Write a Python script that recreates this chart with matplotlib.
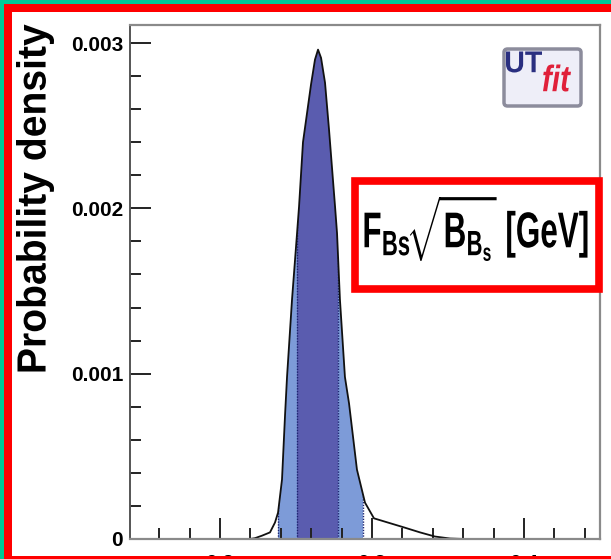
import numpy as np
import matplotlib
matplotlib.use('Agg')
import matplotlib.pyplot as plt
from matplotlib.patches import Rectangle, Polygon, FancyBboxPatch, PathPatch
from matplotlib.textpath import TextPath
from matplotlib.font_manager import FontProperties
from matplotlib.transforms import Affine2D
from matplotlib.ticker import MultipleLocator

plt.rcParams['font.family'] = ['Liberation Sans', 'DejaVu Sans']
plt.rcParams['mathtext.fontset'] = 'custom'
plt.rcParams['mathtext.rm'] = 'Liberation Sans:bold'
plt.rcParams['mathtext.it'] = 'Liberation Sans:bold'
plt.rcParams['mathtext.bf'] = 'Liberation Sans:bold'

W, H = 611, 559

# p.d.f. of F_Bs sqrt(B_Bs), read point by point
fbs_x = [0.2197, 0.2230, 0.2276, 0.2329, 0.2362, 0.2382, 0.2408, 0.2428, 0.2441,
         0.2474, 0.2507, 0.2520, 0.2546, 0.2599, 0.2625, 0.2645, 0.2665, 0.2691,
         0.2717, 0.2757, 0.2770, 0.2789, 0.2822, 0.2849, 0.2901, 0.2954, 0.3013,
         0.3211, 0.3316, 0.3414, 0.3513, 0.3612]
fbs_pdf = [0.0, 0.000005, 0.00002, 0.00004, 0.00010, 0.00016, 0.00036, 0.00075, 0.00098,
           0.00145, 0.00185, 0.00201, 0.00240, 0.00275, 0.00290, 0.00296, 0.00291, 0.00276,
           0.00248, 0.00201, 0.00185, 0.00145, 0.00098, 0.00082, 0.00042, 0.00022, 0.000125,
           0.00007, 0.00004, 0.000015, 0.000003, 0.0]

# 68% and 95% probability ranges
band68 = (0.2507, 0.2776)
band95 = (0.2382, 0.2941)

xticks = [0.2, 0.3, 0.4]
xlabels = ['0.2', '0.3', '0.4']
yticks = [0, 0.001, 0.002, 0.003]
ylabels = ['0', '0.001', '0.002', '0.003']


def boxed_text(fig, s, cx, cy, w, h, rot=0, color='black', style='normal'):
  # text as an outline, squeezed into a w x h pixel box centred on (cx, cy)
  fp = FontProperties(family='Liberation Sans', weight='bold', style=style)
  tp = TextPath((0, 0), s, size=40, prop=fp)
  bb = tp.get_extents()
  tr = (Affine2D().translate(-(bb.x0+bb.x1)/2, -(bb.y0+bb.y1)/2)
        .scale(w/bb.width, h/bb.height).rotate_deg(rot).translate(cx, H-cy))
  fig.add_artist(PathPatch(tr.transform_path(tp), facecolor=color, edgecolor='none',
                           transform=None, zorder=5))


def fbs_plot():
  fig = plt.figure(figsize=(W/100, H/100), dpi=100)
  fig.patch.set_facecolor('white')
  ax = fig.add_axes([130/W, 1-539/H, 470/W, 514/H])
  ax.set_xlim(0.1408, 0.45)
  ax.set_ylim(0, 0.003109)

  # area under the curve, used to clip the bands
  under = Polygon(list(zip(fbs_x, fbs_pdf)), closed=True, facecolor='none', edgecolor='none')
  ax.add_patch(under)
  for (lo, hi), col in [(band95, '#7d9bd8'), (band68, '#5a5caf')]:
    r = Rectangle((lo, 0), hi-lo, 0.0032, facecolor=col, edgecolor='none', zorder=1)
    ax.add_patch(r)
    r.set_clip_path(under)
    for xe in (lo, hi):
      l, = ax.plot([xe, xe], [0, 0.0032], color='#1c2470', lw=1.0, ls=(0, (1, 1)), zorder=1.5)
      l.set_clip_path(under)
  ax.plot(fbs_x, fbs_pdf, color='#111111', lw=1.3, zorder=2)

  ax.set_xticks(xticks)
  ax.set_xticklabels(xlabels)
  ax.set_yticks(yticks)
  ax.set_yticklabels(ylabels)
  ax.xaxis.set_minor_locator(MultipleLocator(0.02))
  ax.yaxis.set_minor_locator(MultipleLocator(0.0002))
  ax.tick_params(which='both', direction='in', top=False, right=False, color='#222222', width=1.4)
  ax.tick_params(which='major', length=15)
  ax.tick_params(which='minor', length=8)
  ax.tick_params(axis='y', pad=5, labelsize=15)
  ax.tick_params(axis='x', pad=11, labelsize=15)
  for lab in ax.get_xticklabels() + ax.get_yticklabels():
    lab.set_fontweight('bold')
  for s in ['top', 'right', 'bottom']:
    ax.spines[s].set_color('#8a8a8a')
    ax.spines[s].set_linewidth(1.6)
  ax.spines['left'].set_color('#555555')
  ax.spines['left'].set_linewidth(1.4)

  boxed_text(fig, 'Probability density', 35, 198, 347, 38, rot=90)

  # variable name in a red frame
  fig.add_artist(Rectangle((355/W, 1-289/H), 244/W, 108/H, transform=fig.transFigure,
                           facecolor='white', edgecolor='#ff0000', lw=5.5, zorder=3))
  boxed_text(fig, r'$\mathbf{F_{Bs}\!\sqrt{B_{B_s}}}$ [GeV]', 476, 229, 223, 64)

  # UTfit logo
  fig.add_artist(FancyBboxPatch((504/W, 1-106/H), 77/W, 57/H, transform=fig.transFigure,
                                boxstyle='round,pad=0,rounding_size=0.006',
                                facecolor='#eeeef8', edgecolor='#8c8c9c', lw=2.5, zorder=3))
  boxed_text(fig, 'UT', 524, 62, 36, 21, color='#2a2f80')
  boxed_text(fig, 'fit', 557, 78, 28, 27, color='#e0203a', style='italic')

  # frame round the picture
  frame = [((0, 0), 4, H, '#00c896'), ((0, 555), W, 4, '#00c896'),
           ((4, 0), 8, 555, '#ff0000'), ((4, 547), W-4, 8, '#ff0000'),
           ((4, 0), W-4, 3, '#ff0000')]
  for (x0, y0), w, h, col in frame:
    fig.add_artist(Rectangle((x0/W, y0/H), w/W, h/H, transform=fig.transFigure,
                             facecolor=col, edgecolor='none', zorder=10))

  fig.savefig('out.png', dpi=100)


if __name__ == '__main__':
  fbs_plot()
